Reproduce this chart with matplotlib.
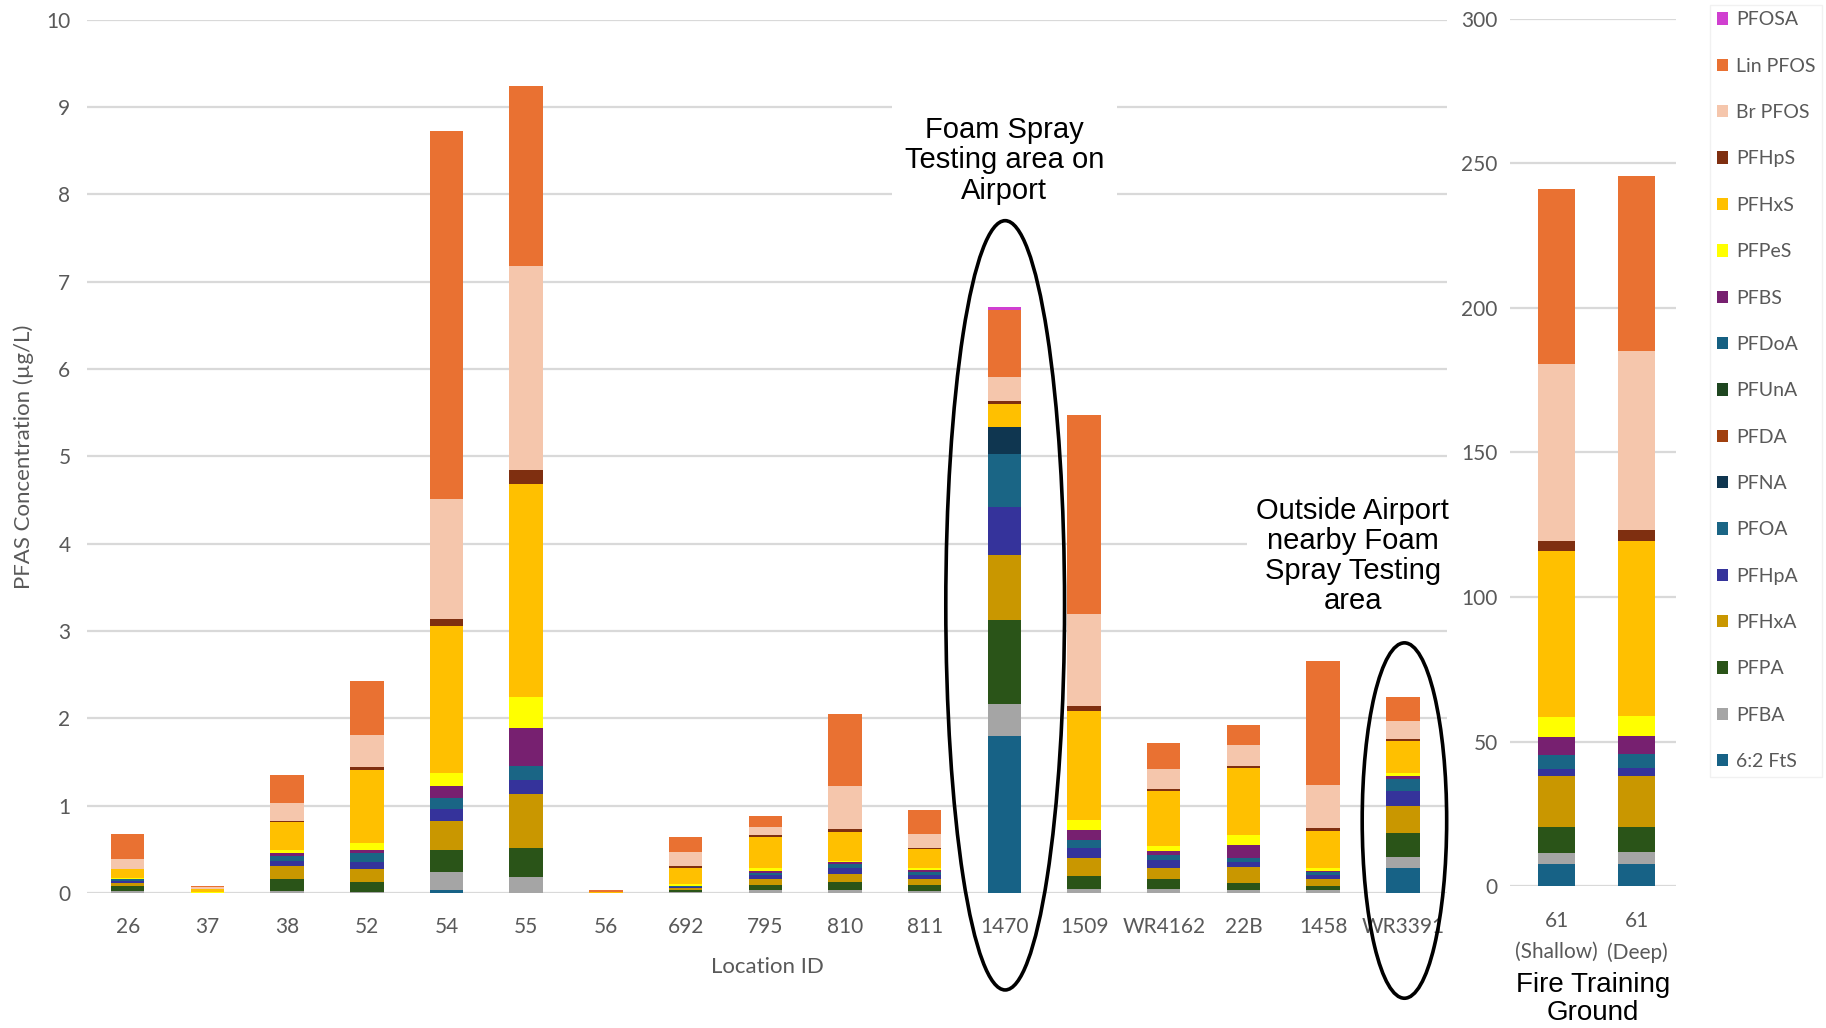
import numpy as np
import matplotlib.pyplot as plt
from matplotlib.patches import Ellipse, Patch

# sample locations (left panel) and the fire training ground wells (right panel)
locations = ['26', '37', '38', '52', '54', '55', '56', '692', '795', '810', '811',
             '1470', '1509', 'WR4162', '22B', '1458', 'WR3391']
ftg_labels = ['61\n(Shallow)', '61\n(Deep)']

# concentrations in ug/L, one entry per location, then the two FTG wells
fts62   = [0, 0, 0, 0, 0.04, 0, 0, 0, 0, 0, 0, 1.80, 0, 0, 0, 0, 0.29, 7.5, 7.5]
pfba    = [0.02, 0, 0.02, 0.015, 0.20, 0.18, 0, 0.01, 0.04, 0.04, 0.027, 0.37, 0.05, 0.05, 0.04, 0.03, 0.12, 3.9, 4.2]
pfpa    = [0.055, 0, 0.135, 0.115, 0.25, 0.33, 0, 0.02, 0.056, 0.087, 0.07, 0.96, 0.15, 0.115, 0.075, 0.047, 0.28, 9.0, 8.7]
pfhxa   = [0.04, 0, 0.15, 0.15, 0.34, 0.62, 0, 0.025, 0.07, 0.093, 0.059, 0.74, 0.20, 0.125, 0.18, 0.088, 0.31, 17.8, 17.8]
pfhpa   = [0.02, 0, 0.065, 0.08, 0.13, 0.17, 0, 0.01, 0.035, 0.07, 0.05, 0.55, 0.11, 0.09, 0.055, 0.04, 0.17, 2.3, 2.8]
pfoa    = [0.02, 0, 0.055, 0.095, 0.13, 0.15, 0, 0.01, 0.03, 0.04, 0.04, 0.61, 0.10, 0.06, 0.05, 0.04, 0.14, 4.7, 4.6]
pfna    = [0, 0, 0, 0, 0, 0, 0, 0, 0, 0, 0, 0.31, 0, 0, 0, 0, 0, 0, 0]
pfda    = [0] * 19
pfuna   = [0] * 19
pfdoa   = [0] * 19
pfbs    = [0.01, 0, 0.03, 0.035, 0.14, 0.44, 0, 0.005, 0.02, 0.025, 0.015, 0, 0.11, 0.04, 0.15, 0.005, 0.03, 6.4, 6.3]
pfpes   = [0.01, 0.01, 0.035, 0.08, 0.15, 0.35, 0, 0.02, 0.03, 0.015, 0.025, 0, 0.12, 0.06, 0.12, 0.04, 0.04, 7.0, 7.1]
pfhxs   = [0.10, 0.04, 0.325, 0.84, 1.68, 2.44, 0.015, 0.19, 0.36, 0.33, 0.215, 0.26, 1.25, 0.63, 0.76, 0.42, 0.36, 57.3, 60.4]
pfhps   = [0.005, 0, 0.01, 0.03, 0.08, 0.16, 0, 0.02, 0.02, 0.03, 0.01, 0.04, 0.05, 0.02, 0.03, 0.03, 0.02, 3.4, 3.7]
br_pfos = [0.11, 0.02, 0.21, 0.37, 1.37, 2.34, 0, 0.16, 0.095, 0.50, 0.17, 0.27, 1.05, 0.23, 0.24, 0.50, 0.205, 61.1, 62.0]
lin_pfos = [0.29, 0.01, 0.32, 0.62, 4.22, 2.06, 0.025, 0.17, 0.13, 0.82, 0.265, 0.77, 2.29, 0.30, 0.22, 1.42, 0.285, 60.6, 60.3]
pfosa   = [0, 0, 0, 0, 0, 0, 0, 0, 0, 0, 0, 0.03, 0, 0, 0, 0, 0, 0, 0]

# stack order, bottom to top
series = [
    ('6:2 FtS',  fts62,    '#176286'),
    ('PFBA',     pfba,     '#A5A5A5'),
    ('PFPA',     pfpa,     '#2A5418'),
    ('PFHxA',    pfhxa,    '#C99700'),
    ('PFHpA',    pfhpa,    '#35339B'),
    ('PFOA',     pfoa,     '#1A6585'),
    ('PFNA',     pfna,     '#0F3650'),
    ('PFDA',     pfda,     '#A0400F'),
    ('PFUnA',    pfuna,    '#1E4620'),
    ('PFDoA',    pfdoa,    '#156082'),
    ('PFBS',     pfbs,     '#772070'),
    ('PFPeS',    pfpes,    '#FFFF00'),
    ('PFHxS',    pfhxs,    '#FFC000'),
    ('PFHpS',    pfhps,    '#7F2F10'),
    ('Br PFOS',  br_pfos,  '#F5C6AC'),
    ('Lin PFOS', lin_pfos, '#E97132'),
    ('PFOSA',    pfosa,    '#D03FD0'),
]

GRAY = '#595959'
GRID = '#D9D9D9'
TICK_FONT = ['Lato', 'DejaVu Sans']
NOTE_FONT = ['Liberation Sans', 'DejaVu Sans']

fig = plt.figure(figsize=(18.26, 10.28), dpi=100)
ax = fig.add_axes([0.0477, 0.1313, 0.745, 0.8494])
ax2 = fig.add_axes([0.827, 0.138, 0.091, 0.8439])

n_loc = len(locations)
x = np.arange(n_loc)
x2 = np.arange(len(ftg_labels))

bottom = np.zeros(n_loc)
bottom2 = np.zeros(len(ftg_labels))
for name, vals, color in series:
    v = np.array(vals, dtype=float)
    ax.bar(x, v[:n_loc], width=0.42, bottom=bottom, color=color, zorder=3)
    ax2.bar(x2, v[n_loc:], width=0.46, bottom=bottom2, color=color, zorder=3)
    bottom += v[:n_loc]
    bottom2 += v[n_loc:]

# ── left panel formatting ─────────────────────────────────────────────────────
ax.set_xlim(-0.51, 16.56)
ax.set_ylim(0, 10)
ax.set_yticks(range(0, 11))
ax.set_xticks(x)
ax.set_xticklabels(locations)
ax.grid(axis='y', color=GRID, lw=1.6, zorder=0)
ax.tick_params(length=0, labelsize=15, labelcolor=GRAY)
ax.tick_params(axis='y', pad=12)
ax.tick_params(axis='x', pad=17)
for s in ax.spines.values():
    s.set_visible(False)
for lab in ax.get_xticklabels() + ax.get_yticklabels():
    lab.set_family(TICK_FONT)
ax.set_xlabel('Location ID', fontsize=16, color=GRAY, family=TICK_FONT, labelpad=15)
ax.set_ylabel('PFAS Concentration (µg/L)', fontsize=16, color=GRAY,
              family=TICK_FONT, labelpad=9)

# ── right panel formatting ────────────────────────────────────────────────────
ax2.set_xlim(-0.58, 1.49)
ax2.set_ylim(0, 300)
ax2.set_yticks(range(0, 301, 50))
ax2.set_xticks(x2)
ax2.set_xticklabels(ftg_labels, linespacing=1.65)
ax2.grid(axis='y', color=GRID, lw=1.6, zorder=0)
ax2.tick_params(length=0, labelsize=15, labelcolor=GRAY)
ax2.tick_params(axis='y', pad=9)
ax2.tick_params(axis='x', pad=18)
for s in ax2.spines.values():
    s.set_visible(False)
for lab in ax2.get_xticklabels() + ax2.get_yticklabels():
    lab.set_family(TICK_FONT)
ax2.set_xlabel('Fire Training\nGround', fontsize=20, color='black',
               family=NOTE_FONT, labelpad=7, linespacing=1.1)

# ── callouts ──────────────────────────────────────────────────────────────────
ax.text(11, 8.39, 'Foam Spray\nTesting area on\nAirport', ha='center', va='center',
        fontsize=21, family=NOTE_FONT, linespacing=1.1, zorder=4,
        bbox=dict(boxstyle='square,pad=0.45', fc='white', ec='none'))
ax.text(15.37, 3.86, 'Outside Airport\nnearby Foam\nSpray Testing\narea',
        ha='center', va='center', fontsize=21, family=NOTE_FONT,
        linespacing=1.1, zorder=4,
        bbox=dict(boxstyle='square,pad=0.3', fc='white', ec='none'))
ax.add_patch(Ellipse((11.01, 3.295), 1.49, 8.81, fill=False, ec='black',
                     lw=2.6, clip_on=False, zorder=5))
ax.add_patch(Ellipse((16.02, 0.83), 1.06, 4.07, fill=False, ec='black',
                     lw=2.6, clip_on=False, zorder=5))

# ── legend (top entry first) ──────────────────────────────────────────────────
handles = [Patch(facecolor=c, edgecolor='none', label=n) for n, _, c in series[::-1]]
leg = fig.legend(handles=handles, loc='upper left', bbox_to_anchor=(0.931, 1.005),
                 frameon=True, fontsize=14, handlelength=0.6, handleheight=0.6,
                 handletextpad=0.4, labelspacing=1.51, borderpad=0.35,
                 fancybox=False, edgecolor='#EEEEEE')
for t in leg.get_texts():
    t.set_color(GRAY)
    t.set_family(TICK_FONT)

fig.savefig('out.png', dpi=100, facecolor='white')
